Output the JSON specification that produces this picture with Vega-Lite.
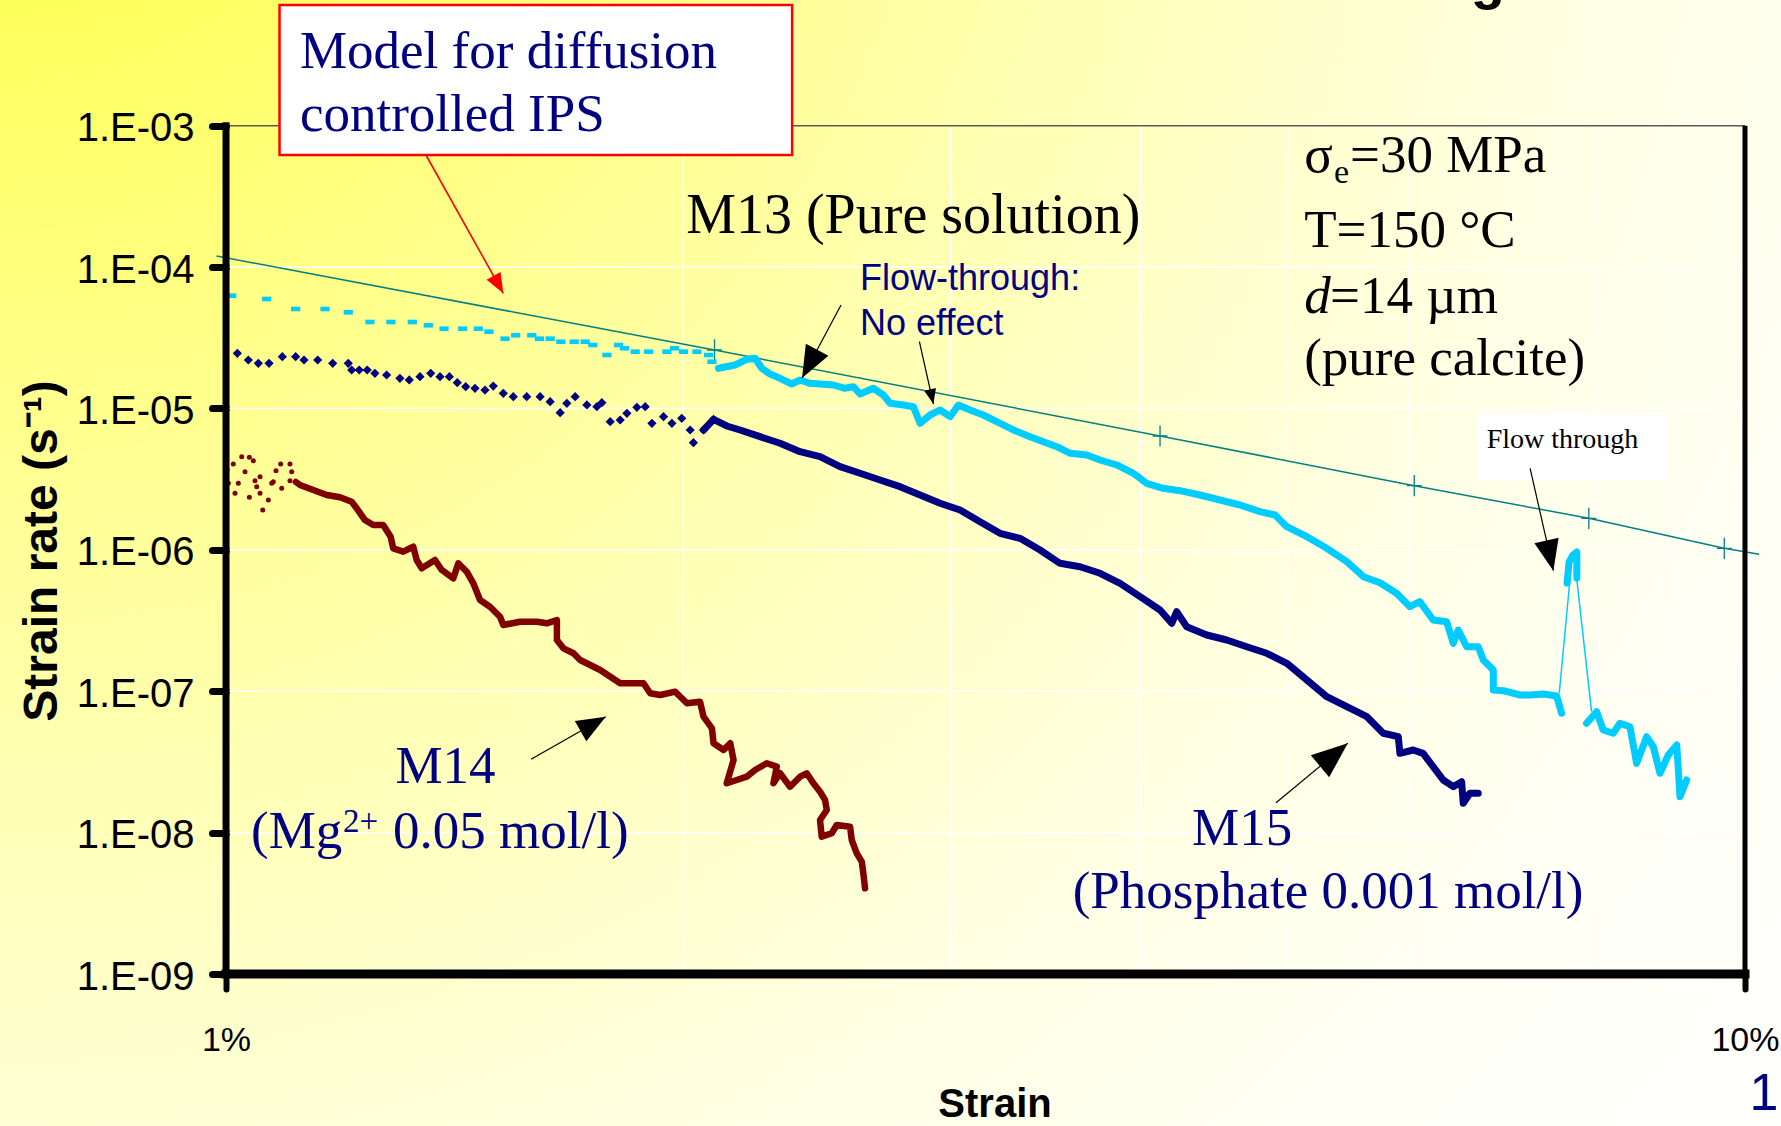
{
  "$schema": "https://vega.github.io/schema/vega-lite/v6.json",
  "width": 1781,
  "height": 1126,
  "autosize": {"type": "none"},
  "padding": 0,
  "background": "#ffffff",
  "config": {
    "view": {
      "stroke": null,
      "fill": {"gradient": "radial", "x1": 0, "y1": 0, "r1": 0, "x2": 0, "y2": 0, "r2": 1.3,
        "stops": [
          {"offset": 0, "color": "#ffff33"},
          {"offset": 0.3, "color": "#ffff88"},
          {"offset": 0.55, "color": "#ffffc4"},
          {"offset": 0.7, "color": "#ffffe4"},
          {"offset": 0.82, "color": "#fffff2"},
          {"offset": 1, "color": "#ffffff"}
        ]}
    }
  },
  "datasets": {
    "hgrid": [{"s":1,"s2":10,"r":1e-4},{"s":1,"s2":10,"r":1e-5},{"s":1,"s2":10,"r":1e-6},{"s":1,"s2":10,"r":1e-7},{"s":1,"s2":10,"r":1e-8}],
    "vgrid": [{"s":2,"r":1e-9,"r2":1e-3},{"s":3,"r":1e-9,"r2":1e-3},{"s":4,"r":1e-9,"r2":1e-3},{"s":5,"r":1e-9,"r2":1e-3},{"s":6,"r":1e-9,"r2":1e-3},{"s":7,"r":1e-9,"r2":1e-3},{"s":8,"r":1e-9,"r2":1e-3},{"s":9,"r":1e-9,"r2":1e-3}],
    "model": [{"s":0.9857,"r":1.198e-4},{"s":2.0970,"r":2.593e-5},{"s":4.120,"r":6.39e-6},{"s":6.057,"r":2.845e-6},{"s":7.892,"r":1.673e-6},{"s":9.691,"r":1.026e-6},{"s":10.215,"r":9.31e-7}],
    "modelx": [{"s":2.0970,"r":2.593e-5},{"s":4.120,"r":6.39e-6},{"s":6.057,"r":2.845e-6},{"s":7.892,"r":1.673e-6},{"s":9.691,"r":1.026e-6}],
    "m13pts": [{"s":1.0087,"r":6.277e-5},{"s":1.0636,"r":5.948e-5},{"s":1.1113,"r":5.054e-5},{"s":1.1619,"r":5.054e-5},{"s":1.2036,"r":4.789e-5},{"s":1.2437,"r":4.089e-5},{"s":1.2840,"r":4.089e-5},{"s":1.3262,"r":4.089e-5},{"s":1.3589,"r":3.876e-5},{"s":1.3916,"r":3.667e-5},{"s":1.4315,"r":3.667e-5},{"s":1.4658,"r":3.667e-5},{"s":1.4897,"r":3.492e-5},{"s":1.5264,"r":3.116e-5},{"s":1.5513,"r":3.294e-5},{"s":1.5896,"r":3.294e-5},{"s":1.6082,"r":3.116e-5},{"s":1.6345,"r":3.116e-5},{"s":1.6613,"r":2.967e-5},{"s":1.6951,"r":2.967e-5},{"s":1.7236,"r":2.967e-5},{"s":1.7438,"r":2.812e-5},{"s":1.7814,"r":2.389e-5},{"s":1.8129,"r":2.812e-5},{"s":1.8295,"r":2.666e-5},{"s":1.8594,"r":2.522e-5},{"s":1.8973,"r":2.522e-5},{"s":1.9510,"r":2.522e-5},{"s":1.9736,"r":2.666e-5},{"s":2.0007,"r":2.522e-5},{"s":2.0418,"r":2.522e-5},{"s":2.0781,"r":2.389e-5},{"s":2.0888,"r":2.143e-5}],
    "m13line": [
      {"seg":"A","s":2.1095,"r":1.924e-5},{"seg":"A","s":2.1633,"r":2.030e-5},{"seg":"A","s":2.2020,"r":2.228e-5},{"seg":"A","s":2.2299,"r":2.265e-5},{"seg":"A","s":2.2527,"r":1.924e-5},{"seg":"A","s":2.2812,"r":1.754e-5},{"seg":"A","s":2.3160,"r":1.635e-5},{"seg":"A","s":2.3575,"r":1.490e-5},{"seg":"A","s":2.3873,"r":1.591e-5},{"seg":"A","s":2.4237,"r":1.507e-5},{"seg":"A","s":2.4607,"r":1.490e-5},{"seg":"A","s":2.5109,"r":1.466e-5},{"seg":"A","s":2.5558,"r":1.390e-5},{"seg":"A","s":2.5882,"r":1.427e-5},{"seg":"A","s":2.6146,"r":1.266e-5},{"seg":"A","s":2.6678,"r":1.390e-5},{"seg":"A","s":2.7086,"r":1.246e-5},{"seg":"A","s":2.7363,"r":1.088e-5},{"seg":"A","s":2.7920,"r":1.059e-5},{"seg":"A","s":2.8347,"r":1.030e-5},{"seg":"A","s":2.8637,"r":7.858e-6},{"seg":"A","s":2.9075,"r":8.995e-6},{"seg":"A","s":2.9520,"r":9.759e-6},{"seg":"A","s":2.9970,"r":8.750e-6},{"seg":"A","s":3.0349,"r":1.059e-5},{"seg":"A","s":3.0893,"r":9.759e-6},{"seg":"A","s":3.1518,"r":8.995e-6},{"seg":"A","s":3.2166,"r":8.064e-6},{"seg":"A","s":3.2986,"r":7.047e-6},{"seg":"A","s":3.3831,"r":6.319e-6},{"seg":"A","s":3.4520,"r":5.824e-6},{"seg":"A","s":3.5237,"r":5.368e-6},{"seg":"A","s":3.5954,"r":4.822e-6},{"seg":"A","s":3.6870,"r":4.690e-6},{"seg":"A","s":3.7620,"r":4.323e-6},{"seg":"A","s":3.8584,"r":3.985e-6},{"seg":"A","s":3.9568,"r":3.481e-6},{"seg":"A","s":4.037,"r":2.958e-6},{"seg":"A","s":4.140,"r":2.726e-6},{"seg":"A","s":4.246,"r":2.622e-6},{"seg":"A","s":4.377,"r":2.445e-6},{"seg":"A","s":4.512,"r":2.254e-6},{"seg":"A","s":4.651,"r":2.077e-6},{"seg":"A","s":4.794,"r":1.863e-6},{"seg":"A","s":4.905,"r":1.765e-6},{"seg":"A","s":4.993,"r":1.459e-6},{"seg":"A","s":5.147,"r":1.240e-6},{"seg":"A","s":5.305,"r":1.026e-6},{"seg":"A","s":5.468,"r":8.252e-7},{"seg":"A","s":5.608,"r":6.464e-7},{"seg":"A","s":5.750,"r":5.861e-7},{"seg":"A","s":5.897,"r":4.934e-7},{"seg":"A","s":6.017,"r":3.966e-7},{"seg":"A","s":6.109,"r":4.302e-7},{"seg":"A","s":6.233,"r":3.193e-7},{"seg":"A","s":6.362,"r":3.106e-7},{"seg":"A","s":6.426,"r":2.185e-7},{"seg":"A","s":6.475,"r":2.713e-7},{"seg":"A","s":6.558,"r":2.067e-7},{"seg":"A","s":6.674,"r":2.067e-7},{"seg":"A","s":6.725,"r":1.665e-7},{"seg":"A","s":6.828,"r":1.414e-7},{"seg":"A","s":6.828,"r":1.021e-7},{"seg":"A","s":6.933,"r":1.010e-7},{"seg":"A","s":7.111,"r":9.415e-8},{"seg":"A","s":7.220,"r":9.415e-8},{"seg":"A","s":7.367,"r":9.570e-8},{"seg":"A","s":7.516,"r":9.265e-8},{"seg":"A","s":7.573,"r":6.989e-8},
      {"seg":"K","s":7.636,"r":5.833e-7},{"seg":"K","s":7.659,"r":8.211e-7},{"seg":"K","s":7.705,"r":9.203e-7},{"seg":"K","s":7.750,"r":9.665e-7},{"seg":"K","s":7.750,"r":6.329e-7},
      {"seg":"B","s":7.865,"r":5.937e-8},{"seg":"B","s":7.986,"r":7.173e-8},{"seg":"B","s":8.066,"r":5.325e-8},{"seg":"B","s":8.189,"r":5.047e-8},{"seg":"B","s":8.273,"r":5.937e-8},{"seg":"B","s":8.399,"r":5.617e-8},{"seg":"B","s":8.485,"r":3.096e-8},{"seg":"B","s":8.615,"r":4.775e-8},{"seg":"B","s":8.702,"r":4.057e-8},{"seg":"B","s":8.791,"r":2.631e-8},{"seg":"B","s":8.902,"r":3.544e-8},{"seg":"B","s":9.017,"r":4.171e-8},{"seg":"B","s":9.062,"r":1.797e-8},{"seg":"B","s":9.154,"r":2.359e-8}
    ],
    "m13thin": [{"seg":"up","s":7.546,"r":9.681e-8},{"seg":"up","s":7.669,"r":6.124e-7},{"seg":"down","s":7.750,"r":6.124e-7},{"seg":"down","s":7.925,"r":7.173e-8}],
    "m15pts": [{"s":1.0173,"r":2.458e-5},{"s":1.0344,"r":2.203e-5},{"s":1.0502,"r":2.087e-5},{"s":1.0674,"r":2.087e-5},{"s":1.0891,"r":2.324e-5},{"s":1.1113,"r":2.324e-5},{"s":1.1255,"r":2.203e-5},{"s":1.1491,"r":2.203e-5},{"s":1.1755,"r":2.087e-5},{"s":1.2036,"r":2.087e-5},{"s":1.2098,"r":1.872e-5},{"s":1.2238,"r":1.872e-5},{"s":1.2386,"r":1.872e-5},{"s":1.2532,"r":1.774e-5},{"s":1.2756,"r":1.725e-5},{"s":1.3016,"r":1.635e-5},{"s":1.3202,"r":1.591e-5},{"s":1.3418,"r":1.679e-5},{"s":1.3638,"r":1.774e-5},{"s":1.3832,"r":1.679e-5},{"s":1.4029,"r":1.679e-5},{"s":1.4199,"r":1.522e-5},{"s":1.4381,"r":1.427e-5},{"s":1.4585,"r":1.390e-5},{"s":1.4808,"r":1.351e-5},{"s":1.4995,"r":1.442e-5},{"s":1.5225,"r":1.281e-5},{"s":1.5457,"r":1.212e-5},{"s":1.5776,"r":1.212e-5},{"s":1.6099,"r":1.212e-5},{"s":1.6345,"r":1.117e-5},{"s":1.6595,"r":9.340e-6},{"s":1.6764,"r":1.088e-5},{"s":1.6977,"r":1.212e-5},{"s":1.7281,"r":1.059e-5},{"s":1.7544,"r":1.030e-5},{"s":1.7678,"r":1.099e-5},{"s":1.7903,"r":8.064e-6},{"s":1.8176,"r":8.291e-6},{"s":1.8362,"r":9.250e-6},{"s":1.8642,"r":1.020e-5},{"s":1.8879,"r":1.030e-5},{"s":1.9072,"r":7.858e-6},{"s":1.9410,"r":8.750e-6},{"s":1.9658,"r":7.858e-6},{"s":1.9953,"r":8.523e-6},{"s":2.0210,"r":7.047e-6},{"s":2.0310,"r":5.730e-6},{"s":2.0624,"r":7.047e-6},{"s":2.0939,"r":8.385e-6}],
    "m15line": [{"s":2.0624,"r":7.047e-6},{"s":2.0939,"r":8.385e-6},{"s":2.1362,"r":7.522e-6},{"s":2.1797,"r":7.047e-6},{"s":2.2469,"r":6.319e-6},{"s":2.3160,"r":5.675e-6},{"s":2.3873,"r":4.950e-6},{"s":2.4607,"r":4.562e-6},{"s":2.5364,"r":3.876e-6},{"s":2.6146,"r":3.481e-6},{"s":2.6951,"r":3.121e-6},{"s":2.7780,"r":2.799e-6},{"s":2.8637,"r":2.445e-6},{"s":2.9520,"r":2.136e-6},{"s":3.0427,"r":1.915e-6},{"s":3.1361,"r":1.582e-6},{"s":3.2326,"r":1.310e-6},{"s":3.3322,"r":1.208e-6},{"s":3.4348,"r":9.984e-7},{"s":3.5405,"r":8.038e-7},{"s":3.6498,"r":7.606e-7},{"s":3.7620,"r":6.831e-7},{"s":3.8779,"r":5.805e-7},{"s":3.9973,"r":4.667e-7},{"s":4.1200,"r":3.758e-7},{"s":4.1937,"r":3.026e-7},{"s":4.2255,"r":3.655e-7},{"s":4.2900,"r":2.863e-7},{"s":4.4223,"r":2.501e-7},{"s":4.5584,"r":2.306e-7},{"s":4.6987,"r":2.067e-7},{"s":4.8433,"r":1.857e-7},{"s":4.993,"r":1.578e-7},{"s":5.147,"r":1.202e-7},{"s":5.305,"r":9.158e-8},{"s":5.468,"r":7.782e-8},{"s":5.637,"r":6.613e-8},{"s":5.779,"r":5.047e-8},{"s":5.912,"r":4.775e-8},{"s":5.927,"r":3.643e-8},{"s":6.047,"r":3.845e-8},{"s":6.139,"r":3.643e-8},{"s":6.233,"r":2.930e-8},{"s":6.329,"r":2.359e-8},{"s":6.426,"r":2.115e-8},{"s":6.508,"r":2.295e-8},{"s":6.524,"r":1.614e-8},{"s":6.590,"r":1.899e-8},{"s":6.674,"r":1.899e-8}],
    "m14pts": [{"s":1.0015,"r":3.674e-6},{"s":1.0111,"r":4.050e-6},{"s":1.0241,"r":4.562e-6},{"s":1.0360,"r":4.518e-6},{"s":1.0423,"r":4.274e-6},{"s":1.0035,"r":2.958e-6},{"s":1.0137,"r":2.514e-6},{"s":1.0188,"r":2.958e-6},{"s":1.0292,"r":3.574e-6},{"s":1.0360,"r":2.355e-6},{"s":1.0449,"r":3.086e-6},{"s":1.0529,"r":2.514e-6},{"s":1.0572,"r":1.915e-6},{"s":1.0662,"r":2.254e-6},{"s":1.0717,"r":2.958e-6},{"s":1.0787,"r":3.632e-6},{"s":1.0864,"r":4.050e-6},{"s":1.0881,"r":2.726e-6},{"s":1.1018,"r":4.050e-6},{"s":1.1047,"r":3.574e-6},{"s":1.1018,"r":3.086e-6},{"s":1.0476,"r":2.799e-6},{"s":1.0529,"r":3.294e-6},{"s":1.0743,"r":3.036e-6}],
    "m14line": [{"s":1.1118,"r":3.021e-6},{"s":1.1186,"r":2.877e-6},{"s":1.1414,"r":2.652e-6},{"s":1.1649,"r":2.445e-6},{"s":1.1886,"r":2.355e-6},{"s":1.2098,"r":2.193e-6},{"s":1.2190,"r":1.969e-6},{"s":1.2344,"r":1.627e-6},{"s":1.2500,"r":1.500e-6},{"s":1.2691,"r":1.500e-6},{"s":1.2834,"r":1.240e-6},{"s":1.2885,"r":1.026e-6},{"s":1.3082,"r":9.712e-7},{"s":1.3282,"r":1.053e-6},{"s":1.3351,"r":8.482e-7},{"s":1.3453,"r":7.413e-7},{"s":1.3727,"r":8.482e-7},{"s":1.3868,"r":7.211e-7},{"s":1.4114,"r":6.298e-7},{"s":1.4221,"r":8.038e-7},{"s":1.4403,"r":7.011e-7},{"s":1.4548,"r":5.805e-7},{"s":1.4697,"r":4.423e-7},{"s":1.4920,"r":3.966e-7},{"s":1.5149,"r":3.370e-7},{"s":1.5225,"r":2.943e-7},{"s":1.5615,"r":3.106e-7},{"s":1.6019,"r":3.106e-7},{"s":1.6264,"r":3.026e-7},{"s":1.6513,"r":3.193e-7},{"s":1.6513,"r":2.306e-7},{"s":1.6677,"r":2.014e-7},{"s":1.6933,"r":1.857e-7},{"s":1.7105,"r":1.665e-7},{"s":1.7632,"r":1.414e-7},{"s":1.8176,"r":1.139e-7},{"s":1.8830,"r":1.139e-7},{"s":1.9022,"r":9.681e-8},{"s":1.9313,"r":9.415e-8},{"s":1.9757,"r":9.936e-8},{"s":2.0110,"r":8.225e-8},{"s":2.0514,"r":8.443e-8},{"s":2.0624,"r":6.613e-8},{"s":2.0888,"r":5.473e-8},{"s":2.0939,"r":4.287e-8},{"s":2.1259,"r":3.845e-8},{"s":2.1476,"r":4.287e-8},{"s":2.1584,"r":3.267e-8},{"s":2.1362,"r":2.236e-8},{"s":2.1689,"r":2.359e-8},{"s":2.2020,"r":2.489e-8},{"s":2.2299,"r":2.776e-8},{"s":2.2698,"r":3.096e-8},{"s":2.3045,"r":2.930e-8},{"s":2.2929,"r":2.236e-8},{"s":2.3160,"r":2.631e-8},{"s":2.3514,"r":2.115e-8},{"s":2.3873,"r":2.489e-8},{"s":2.4117,"r":2.631e-8},{"s":2.4360,"r":2.236e-8},{"s":2.4607,"r":1.950e-8},{"s":2.4795,"r":1.703e-8},{"s":2.4859,"r":1.447e-8},{"s":2.4607,"r":1.230e-8},{"s":2.4670,"r":9.369e-9},{"s":2.5048,"r":9.904e-9},{"s":2.5237,"r":1.134e-8},{"s":2.5753,"r":1.103e-8},{"s":2.5819,"r":8.880e-9},{"s":2.6016,"r":7.150e-9},{"s":2.6214,"r":6.236e-9},{"s":2.6277,"r":5.163e-9},{"s":2.6345,"r":4.044e-9}],
    "arrows": [{"id":"a1","s":2.5403,"r":5.395e-5,"s2":2.3946,"r2":1.643e-5},{"id":"a2","s":2.8607,"r":2.967e-5,"s2":2.9220,"r2":1.076e-5},{"id":"ft","s":7.220,"r":3.776e-6,"s2":7.479,"r2":7.129e-7},{"id":"m15","s":4.912,"r":1.630e-8,"s2":5.476,"r2":4.287e-8},{"id":"m14","s":1.5879,"r":3.305e-8,"s2":1.7783,"r2":6.613e-8}],
    "heads": [{"id":"red","s":1.5225,"r":6.527e-5},{"id":"a1","s":2.3946,"r":1.643e-5},{"id":"a2","s":2.9220,"r":1.076e-5},{"id":"ft","s":7.479,"r":7.129e-7},{"id":"m15","s":5.476,"r":4.287e-8},{"id":"m14","s":1.7783,"r":6.613e-8}]
  },
  "encoding": {
    "x": {"field": "s", "type": "quantitative",
      "scale": {"type": "log", "domain": [0.7099, 10.561], "nice": false},
      "axis": {"values": [1, 10], "labelExpr": "datum.value + '%'", "orient": "bottom", "offset": -151, "domain": false, "grid": false,
        "tickSize": 14, "tickWidth": 6, "tickColor": "#000000", "tickCap": "round",
        "labelFont": "Liberation Sans, Arial, sans-serif", "labelFontSize": 34, "labelColor": "#000000",
        "labelBaseline": "alphabetic", "labelPadding": 61, "labelFlush": false, "labelOverlap": false, "title": null}},
    "y": {"field": "r", "type": "quantitative",
      "scale": {"type": "log", "domain": [8.428e-11, 7.743e-3], "nice": false},
      "axis": {"values": [0.001, 0.0001, 0.00001, 0.000001, 1e-7, 1e-8, 1e-9], "labelExpr": "'1.E-0' + round(-log(datum.value)/LN10)",
        "orient": "left", "offset": -226, "domain": false, "grid": false,
        "tickSize": 14, "tickWidth": 7, "tickColor": "#000000", "tickCap": "round",
        "labelFont": "Liberation Sans, Arial, sans-serif", "labelFontSize": 40, "labelColor": "#000000",
        "labelPadding": 18, "labelBaseline": "middle", "labelOffset": 3, "labelOverlap": false, "title": null}}
  },
  "layer": [
    {"data": {"name": "hgrid"}, "mark": {"type": "rule", "color": "#ffffff", "strokeWidth": 1.5}, "encoding": {"x2": {"field": "s2"}}},
    {"data": {"name": "vgrid"}, "mark": {"type": "rule", "color": "#ffffff", "strokeWidth": 1.5}, "encoding": {"y2": {"field": "r2"}}},
    {"data": {"values": [{"s": 1, "s2": 10, "r": 0.001}]}, "mark": {"type": "rule", "color": "#5a5a5a", "strokeWidth": 1.5}, "encoding": {"x2": {"field": "s2"}}},
    {"data": {"name": "model"}, "mark": {"type": "line", "color": "#008080", "strokeWidth": 1.5}, "encoding": {}},
    {"data": {"name": "modelx"}, "mark": {"type": "point", "shape": "M-0.7,0H0.7M0,-1V1", "filled": false, "color": "#008080", "strokeWidth": 1.3, "size": 450, "opacity": 1}, "encoding": {}},
    {"data": {"name": "m14pts"}, "mark": {"type": "point", "shape": "circle", "filled": true, "color": "#800000", "size": 25, "opacity": 1}, "encoding": {}},
    {"data": {"name": "m14line"}, "mark": {"type": "line", "color": "#800000", "strokeWidth": 6.5, "strokeCap": "round", "strokeJoin": "round"}, "encoding": {"order": {"value": null}}},
    {"data": {"name": "m15pts"}, "mark": {"type": "point", "shape": "diamond", "filled": true, "color": "#000080", "size": 85, "opacity": 1}, "encoding": {}},
    {"data": {"name": "m15line"}, "mark": {"type": "line", "color": "#000080", "strokeWidth": 7, "strokeCap": "round", "strokeJoin": "round"}, "encoding": {"order": {"value": null}}},
    {"data": {"name": "m13pts"}, "mark": {"type": "point", "shape": "M-1,-0.5H1V0.5H-1Z", "filled": true, "color": "#00ccff", "size": 85, "opacity": 1}, "encoding": {}},
    {"data": {"name": "m13line"}, "mark": {"type": "line", "color": "#00ccff", "strokeWidth": 7, "strokeCap": "round", "strokeJoin": "round"}, "encoding": {"detail": {"field": "seg"}, "order": {"value": null}}},
    {"data": {"name": "m13thin"}, "mark": {"type": "line", "color": "#00ccff", "strokeWidth": 1.5}, "encoding": {"detail": {"field": "seg"}, "order": {"value": null}}},
    {"data": {"values": [{"s": 1, "r": 1e-9, "r2": 1e-3}]}, "mark": {"type": "rule", "color": "#000000", "strokeWidth": 7, "strokeCap": "square"}, "encoding": {"y2": {"field": "r2"}}},
    {"data": {"values": [{"s": 10, "r": 1e-9, "r2": 1e-3}]}, "mark": {"type": "rule", "color": "#000000", "strokeWidth": 5}, "encoding": {"y2": {"field": "r2"}}},
    {"data": {"values": [{"s": 1, "s2": 10, "r": 1e-9}]}, "mark": {"type": "rule", "color": "#000000", "strokeWidth": 9, "strokeCap": "square"}, "encoding": {"x2": {"field": "s2"}}},
    {"data": {"values": [{"s": 1.0845, "s2": 2.3588, "r": 6.206e-4, "r2": 7.140e-3}]}, "mark": {"type": "rect", "fill": "#ffffff", "stroke": "#ff0000", "strokeWidth": 2.5}, "encoding": {"x2": {"field": "s2"}, "y2": {"field": "r2"}}},
    {"data": {"values": [{"s": 6.671, "s2": 8.885, "r": 3.121e-6, "r2": 9.294e-6}]}, "mark": {"type": "rect", "fill": "#ffffff"}, "encoding": {"x2": {"field": "s2"}, "y2": {"field": "r2"}}},
    {"data": {"values": [{"s": 1.1186, "r": 2.559e-3, "text": "Model for diffusion"}, {"s": 1.1186, "r": 9.174e-4, "text": "controlled IPS"}, {"s": 1.0386, "r": 7.795e-9, "text": "(Mg"}, {"s": 1.2880, "r": 7.795e-9, "text": "0.05 mol/l)"}]},
      "mark": {"type": "text", "font": "Liberation Serif, Times New Roman, serif", "fontSize": 53, "color": "#000080", "align": "left", "baseline": "alphabetic"}, "encoding": {"text": {"field": "text"}}},
    {"data": {"values": [{"s": 1.3946, "r": 2.246e-8, "text": "M14"}, {"s": 4.666, "r": 8.185e-9, "text": "M15"}, {"s": 5.315, "r": 2.934e-9, "text": "(Phosphate 0.001 mol/l)"}]},
      "mark": {"type": "text", "font": "Liberation Serif, Times New Roman, serif", "fontSize": 53, "color": "#000080", "align": "center", "baseline": "alphabetic"}, "encoding": {"text": {"field": "text"}}},
    {"data": {"values": [{"s": 1.1941, "r": 1.012e-8, "text": "2+"}]},
      "mark": {"type": "text", "font": "Liberation Serif, Times New Roman, serif", "fontSize": 33, "color": "#000080", "align": "left", "baseline": "alphabetic"}, "encoding": {"text": {"field": "text"}}},
    {"data": {"values": [{"s": 5.126, "r": 4.708e-4, "text": "σ"}, {"s": 5.495, "r": 4.708e-4, "text": "=30 MPa"}, {"s": 5.126, "r": 1.387e-4, "text": "T=150 °C"}, {"s": 5.331, "r": 4.734e-5, "text": "=14 µm"}, {"s": 5.126, "r": 1.725e-5, "text": "(pure calcite)"}]},
      "mark": {"type": "text", "font": "Liberation Serif, Times New Roman, serif", "fontSize": 53, "color": "#000000", "align": "left", "baseline": "alphabetic"}, "encoding": {"text": {"field": "text"}}},
    {"data": {"values": [{"s": 5.126, "r": 4.734e-5, "text": "d"}]},
      "mark": {"type": "text", "font": "Liberation Serif, Times New Roman, serif", "fontSize": 53, "fontStyle": "italic", "color": "#000000", "align": "left", "baseline": "alphabetic"}, "encoding": {"text": {"field": "text"}}},
    {"data": {"values": [{"s": 5.364, "r": 3.934e-4, "text": "e"}]},
      "mark": {"type": "text", "font": "Liberation Serif, Times New Roman, serif", "fontSize": 34, "color": "#000000", "align": "left", "baseline": "alphabetic"}, "encoding": {"text": {"field": "text"}}},
    {"data": {"values": [{"s": 2.0088, "r": 1.742e-4, "text": "M13 (Pure solution)"}]},
      "mark": {"type": "text", "font": "Liberation Serif, Times New Roman, serif", "fontSize": 56, "color": "#000000", "align": "left", "baseline": "alphabetic"}, "encoding": {"text": {"field": "text"}}},
    {"data": {"values": [{"s": 6.760, "r": 5.256e-6, "text": "Flow through"}]},
      "mark": {"type": "text", "font": "Liberation Serif, Times New Roman, serif", "fontSize": 28, "color": "#000000", "align": "left", "baseline": "alphabetic"}, "encoding": {"text": {"field": "text"}}},
    {"data": {"values": [{"s": 2.6146, "r": 6.887e-5, "text": "Flow-through:"}, {"s": 2.6146, "r": 3.310e-5, "text": "No effect"}]},
      "mark": {"type": "text", "font": "Liberation Sans, Arial, sans-serif", "fontSize": 36, "color": "#000080", "align": "left", "baseline": "alphabetic"}, "encoding": {"text": {"field": "text"}}},
    {"data": {"values": [{"s": 10.292, "r": 1.094e-10, "text": "1"}]},
      "mark": {"type": "text", "font": "Liberation Sans, Arial, sans-serif", "fontSize": 52, "color": "#000080", "align": "center", "baseline": "alphabetic"}, "encoding": {"text": {"field": "text"}}},
    {"data": {"values": [{"s": 6.773, "r": 8.0e-3, "text": "g"}]},
      "mark": {"type": "text", "font": "Liberation Sans, Arial, sans-serif", "fontSize": 56, "fontWeight": "bold", "color": "#000000", "align": "center", "baseline": "alphabetic"}, "encoding": {"text": {"field": "text"}}},
    {"data": {"values": [{"s": 3.2083, "r": 9.76e-11, "text": "Strain"}]},
      "mark": {"type": "text", "font": "Liberation Sans, Arial, sans-serif", "fontSize": 40, "fontWeight": "bold", "color": "#000000", "align": "center", "baseline": "alphabetic"}, "encoding": {"text": {"field": "text"}}},
    {"data": {"values": [{"s": 0.7577, "r": 9.82e-7, "text": "Strain rate (s⁻¹)"}]},
      "mark": {"type": "text", "font": "Liberation Sans, Arial, sans-serif", "fontSize": 48, "fontWeight": "bold", "color": "#000000", "align": "center", "baseline": "middle", "angle": 270}, "encoding": {"text": {"field": "text"}}},
    {"data": {"name": "arrows"}, "mark": {"type": "rule", "color": "#000000", "strokeWidth": 1.2}, "encoding": {"x2": {"field": "s2"}, "y2": {"field": "r2"}}},
    {"data": {"values": [{"s": 1.354, "r": 6.206e-4, "s2": 1.5225, "r2": 6.527e-5}]}, "mark": {"type": "rule", "color": "#ff0000", "strokeWidth": 1.6}, "encoding": {"x2": {"field": "s2"}, "y2": {"field": "r2"}}},
    {"data": {"name": "heads"}, "transform": [{"filter": "datum.id === 'red'"}], "mark": {"type": "point", "shape": "M0,0L-0.8,-2L0.8,-2Z", "filled": true, "color": "#ff0000", "opacity": 1, "size": 400, "angle": -29.2}, "encoding": {}},
    {"data": {"name": "heads"}, "transform": [{"filter": "datum.id === 'a1'"}], "mark": {"type": "point", "shape": "M0,0L-0.8,-2L0.8,-2Z", "filled": true, "color": "#000000", "opacity": 1, "size": 1024, "angle": 28.1}, "encoding": {}},
    {"data": {"name": "heads"}, "transform": [{"filter": "datum.id === 'a2'"}], "mark": {"type": "point", "shape": "M0,0L-0.8,-2L0.8,-2Z", "filled": true, "color": "#000000", "opacity": 1, "size": 225, "angle": -12.7}, "encoding": {}},
    {"data": {"name": "heads"}, "transform": [{"filter": "datum.id === 'ft'"}], "mark": {"type": "point", "shape": "M0,0L-0.8,-2L0.8,-2Z", "filled": true, "color": "#000000", "opacity": 1, "size": 961, "angle": -12.8}, "encoding": {}},
    {"data": {"name": "heads"}, "transform": [{"filter": "datum.id === 'm15'"}], "mark": {"type": "point", "shape": "M0,0L-0.8,-2L0.8,-2Z", "filled": true, "color": "#000000", "opacity": 1, "size": 1296, "angle": -129.6}, "encoding": {}},
    {"data": {"name": "heads"}, "transform": [{"filter": "datum.id === 'm14'"}], "mark": {"type": "point", "shape": "M0,0L-0.8,-2L0.8,-2Z", "filled": true, "color": "#000000", "opacity": 1, "size": 841, "angle": -119.7}, "encoding": {}}
  ]
}
